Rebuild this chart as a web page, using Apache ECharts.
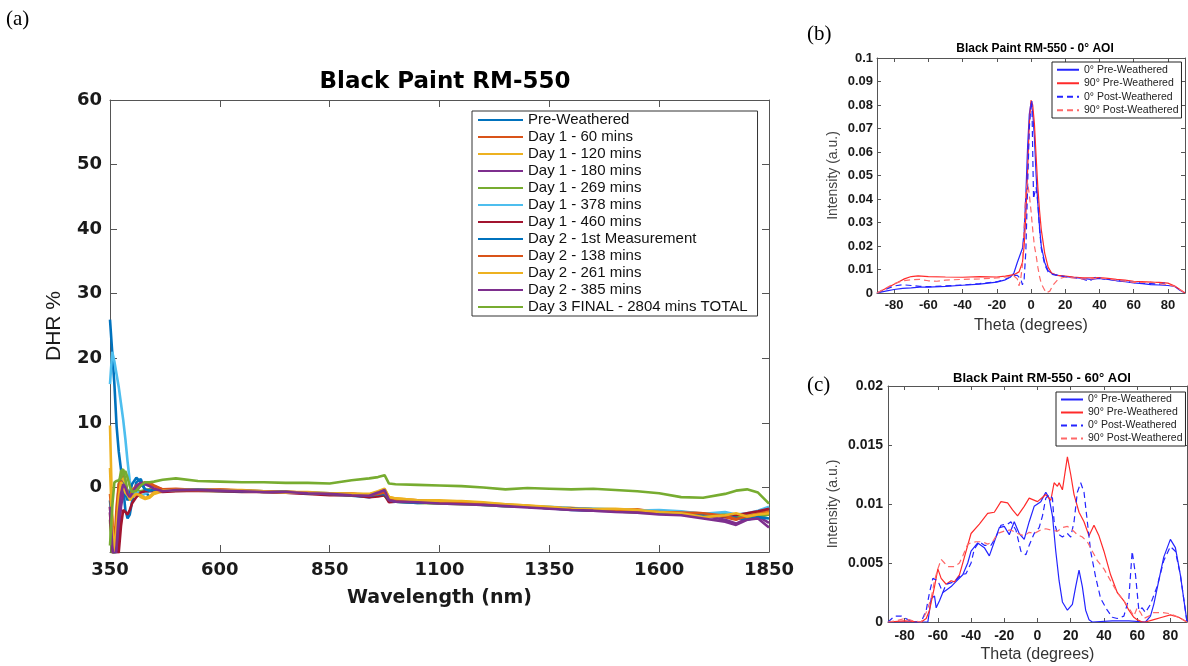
<!DOCTYPE html>
<html>
<head>
<meta charset="utf-8">
<script src="https://cdn.jsdelivr.net/npm/echarts@6/dist/echarts.min.js"></script>
<style>html,body{margin:0;padding:0;background:#fff;}#c{width:1188px;height:666px;}</style>
</head>
<body>
<div id="c"></div>
<script>
// ---------- Panel (a) data ----------
const wavelength = [350,355,360,365,370,375,380,385,390,395,400,410,420,430,440,450,470,500,550,600,650,700,750,800,850,900,940,960,975,985,1000,1050,1100,1150,1200,1250,1300,1350,1400,1450,1500,1550,1600,1650,1700,1750,1775,1800,1825,1850];
const xTicksA = [350,600,850,1100,1350,1600,1850];
const yTicksA = [0,10,20,30,40,50,60];
const namesA = ['Pre-Weathered','Day 1 - 60 mins','Day 1 - 120 mins','Day 1 - 180 mins','Day 1 - 269 mins','Day 1 - 378 mins','Day 1 - 460 mins','Day 2 - 1st Measurement','Day 2 - 138 mins','Day 2 - 261 mins','Day 2 - 385 mins','Day 3 FINAL - 2804 mins TOTAL'];
const preWeathered = [26,21,16,9.5,5.5,2.8,0,-3.5,-4.8,-4.2,-2.3,0.8,1.3,-0.6,-1.5,-0.9,-0.4,-0.3,-0.4,-0.5,-0.6,-0.6,-0.8,-0.8,-1.1,-1.3,-1.5,-1.2,-1.0,-2.0,-2.2,-2.3,-2.5,-2.4,-2.7,-2.9,-3.0,-3.2,-3.5,-3.6,-3.5,-3.8,-3.7,-4.1,-4.3,-4.0,-4.5,-4.7,-4.4,-4.2];
const day1m60 = [-3,-8,-12,-6,-1,1.5,2.2,1,-1,-2,-1.2,0,0.3,0.6,0.7,0.3,-0.3,-0.2,-0.4,-0.3,-0.5,-0.7,-0.6,-0.9,-0.9,-1.0,-1.1,-0.8,-0.6,-1.6,-1.8,-2.0,-2.2,-2.5,-2.6,-2.7,-3.0,-3.1,-3.2,-3.4,-3.5,-3.4,-3.9,-3.8,-4.0,-4.6,-5.0,-4.3,-3.8,-3.5];
const day1m120 = [9.6,-4,-11,-9,-4,0,1.5,0.5,-1,-2,-1.5,-0.8,-1.5,-1.8,-1.6,-1.0,-0.6,-0.5,-0.3,-0.4,-0.4,-0.6,-0.7,-0.7,-0.9,-1.0,-1.0,-0.6,-0.2,-1.5,-1.7,-2.0,-2.0,-2.2,-2.4,-2.6,-2.8,-3.1,-3.2,-3.3,-3.4,-3.5,-3.8,-3.9,-4.5,-4.2,-4.8,-4.0,-4.3,-3.8];
const day1m180 = [-3.8,-7,-12,-12,-7,-3,-1,0.2,-0.5,-1.5,-1.2,-0.5,0.3,0.6,0.3,-0.2,-0.6,-0.5,-0.4,-0.4,-0.5,-0.7,-0.8,-0.9,-1.0,-1.1,-1.3,-1.0,-0.5,-2.0,-2.1,-2.3,-2.4,-2.5,-2.6,-2.8,-3.0,-3.2,-3.4,-3.6,-3.7,-3.6,-4.0,-4.1,-4.4,-5.0,-5.6,-4.8,-4.5,-5.5];
const day1m269 = [-5,-11,-11,-5,0.5,2.5,2.8,1.2,-0.8,-1.5,-1.2,-0.5,-0.6,-0.4,-0.3,-0.3,-0.5,-0.4,-0.5,-0.6,-0.6,-0.7,-0.7,-0.9,-1.0,-1.2,-1.4,-1.2,-1.3,-2.1,-2.2,-2.4,-2.5,-2.6,-2.7,-2.9,-3.0,-3.2,-3.4,-3.5,-3.7,-3.9,-4.0,-4.1,-4.6,-4.1,-4.4,-4.9,-4.6,-4.2];
const day1m378 = [16,21,19.5,17.5,15.5,13,10.5,7.5,4,1,-1,-0.5,-1.3,-1,-0.5,-0.3,-0.4,-0.4,-0.3,-0.6,-0.5,-0.6,-0.7,-0.8,-0.9,-1.1,-1.2,-1.1,-1.2,-1.8,-2.0,-2.1,-2.3,-2.4,-2.5,-2.7,-2.9,-3.0,-3.2,-3.3,-3.4,-3.6,-3.5,-3.7,-4.1,-3.8,-4.2,-4.0,-3.6,-3.0];
const day1m460 = [-4,-9,-12,-12,-10,-6,-3.5,-3.8,-4.2,-3.5,-2.5,-1.5,-0.8,-0.6,-0.6,-0.6,-0.7,-0.6,-0.5,-0.6,-0.7,-0.7,-0.8,-1.0,-1.2,-1.2,-1.5,-1.4,-1.2,-2.3,-2.2,-2.1,-2.2,-2.4,-2.6,-2.8,-3.0,-3.1,-3.3,-3.5,-3.6,-3.8,-3.9,-4.0,-4.2,-4.5,-4.3,-4.0,-3.7,-3.3];
const day2first = [-2,-6,-11,-8,-2,1,0.5,-1,-2,-1,0.5,1.5,0.8,-0.3,-0.5,-0.4,-0.5,-0.4,-0.3,-0.5,-0.6,-0.6,-0.7,-0.9,-1.0,-1.1,-1.3,-1.1,-1.0,-1.9,-2.2,-2.4,-2.3,-2.3,-2.5,-2.8,-3.0,-3.2,-3.3,-3.4,-3.6,-3.7,-3.9,-4.0,-4.3,-4.4,-4.7,-5.0,-4.6,-4.8];
const day2m138 = [-1,-5,-9,-3,0.5,1,0,-0.5,-1,-1.5,-0.5,0.3,0.6,0.8,0.5,0.2,-0.3,-0.3,-0.4,-0.4,-0.5,-0.6,-0.7,-0.8,-1.0,-1.0,-1.2,-1.0,-0.8,-1.7,-1.9,-2.1,-2.2,-2.4,-2.6,-2.7,-2.9,-3.1,-3.3,-3.4,-3.6,-3.7,-3.8,-3.9,-4.0,-4.4,-4.9,-4.5,-4.1,-3.9];
const day2m261 = [3,-6,-10,-6,-1.5,0.8,0.3,-0.8,-1.2,-1.8,-1.5,-1,-1.2,-1.6,-1.4,-0.8,-0.5,-0.4,-0.4,-0.4,-0.5,-0.6,-0.8,-0.8,-0.9,-1.0,-1.1,-0.7,-0.3,-1.5,-1.7,-2.0,-2.1,-2.1,-2.3,-2.6,-2.8,-3.0,-3.3,-3.4,-3.3,-3.5,-3.8,-4.0,-4.6,-4.3,-4.0,-4.5,-4.2,-4.0];
const day2m385 = [-3,-9,-12,-9,-4,-1,0.5,0,-1,-1.5,-1,0.2,0.7,0.5,0.2,-0.2,-0.6,-0.4,-0.4,-0.5,-0.6,-0.7,-0.7,-0.9,-1.0,-1.2,-1.3,-0.8,-0.4,-2.0,-2.2,-2.3,-2.5,-2.6,-2.7,-2.9,-3.1,-3.3,-3.5,-3.6,-3.8,-3.9,-4.2,-4.3,-4.8,-5.3,-5.8,-5.0,-4.8,-6.2];
const day3final = [-9,-3,0.8,1,1.1,1.5,2.3,2.5,1.5,0.2,-0.7,-0.5,0.3,0.8,0.8,0.9,1.2,1.4,1.0,0.9,0.8,0.8,0.7,0.7,0.6,1.1,1.4,1.6,1.9,0.6,0.5,0.4,0.3,0.2,0.0,-0.3,-0.1,-0.2,-0.3,-0.2,-0.4,-0.6,-0.9,-1.5,-1.6,-1.0,-0.5,-0.3,-0.8,-2.5];
const valuesA = [preWeathered,day1m60,day1m120,day1m180,day1m269,day1m378,day1m460,day2first,day2m138,day2m261,day2m385,day3final];

// ---------- Panels (b) and (c) data ----------
const namesBC = ['0° Pre-Weathered','90° Pre-Weathered','0° Post-Weathered','90° Post-Weathered'];
const thetaTicks = [-80,-60,-40,-20,0,20,40,60,80];
const yTicksB = [0,0.01,0.02,0.03,0.04,0.05,0.06,0.07,0.08,0.09,0.1];
const yTicksC = [0,0.005,0.01,0.015,0.02];
const b0Pre = [[-90,0],[-85,0.0008],[-80,0.0015],[-75,0.002],[-70,0.0022],[-65,0.0025],[-60,0.0025],[-50,0.0028],[-40,0.0033],[-30,0.0038],[-20,0.0046],[-15,0.0056],[-12,0.0068],[-10,0.0085],[-8,0.013],[-6,0.017],[-5,0.019],[-4,0.026],[-3,0.042],[-2,0.062],[-1,0.076],[0,0.081],[1,0.077],[2,0.066],[3,0.05],[4,0.038],[5,0.028],[6,0.02],[8,0.013],[10,0.0095],[13,0.008],[16,0.0075],[20,0.007],[25,0.0066],[30,0.0062],[35,0.0058],[40,0.0062],[45,0.0058],[50,0.0052],[55,0.0048],[60,0.0043],[65,0.004],[70,0.0036],[75,0.0034],[80,0.0032],[84,0.0028],[87,0.0012],[90,0]];
const b90Pre = [[-90,0],[-86,0.0015],[-82,0.003],[-78,0.0045],[-74,0.006],[-70,0.007],[-66,0.0073],[-60,0.007],[-50,0.0068],[-40,0.0067],[-30,0.007],[-20,0.0068],[-15,0.0072],[-10,0.0078],[-7,0.009],[-5,0.013],[-4,0.02],[-3,0.033],[-2,0.052],[-1,0.072],[0,0.082],[1,0.08],[2,0.072],[3,0.058],[4,0.045],[5,0.035],[6,0.027],[8,0.017],[10,0.011],[12,0.0085],[15,0.0075],[20,0.0072],[25,0.0068],[30,0.0065],[35,0.0065],[40,0.0066],[45,0.0062],[50,0.0058],[55,0.0055],[60,0.005],[65,0.0048],[70,0.0046],[75,0.0045],[80,0.0042],[84,0.003],[87,0.0015],[90,0]];
const b0Post = [[-90,0],[-85,0.0015],[-80,0.003],[-75,0.0035],[-70,0.0032],[-65,0.0028],[-60,0.0027],[-50,0.003],[-40,0.0034],[-30,0.004],[-20,0.0048],[-15,0.0058],[-10,0.0075],[-8,0.0075],[-6,0.006],[-5,0.0035],[-4,0.006],[-3,0.018],[-2,0.045],[-1,0.07],[0,0.08],[0.5,0.082],[1,0.06],[1.5,0.04],[2,0.042],[3,0.045],[4,0.038],[5,0.027],[6,0.019],[8,0.012],[10,0.009],[13,0.0078],[16,0.0074],[20,0.007],[25,0.0065],[30,0.006],[34,0.005],[38,0.0068],[42,0.006],[48,0.0056],[55,0.005],[60,0.0045],[65,0.0042],[70,0.004],[75,0.0038],[80,0.0045]];
const b90Post = [[-90,0],[-85,0.002],[-80,0.004],[-75,0.0052],[-70,0.0056],[-65,0.0058],[-60,0.0052],[-55,0.005],[-50,0.0055],[-40,0.0058],[-30,0.006],[-20,0.0064],[-15,0.0068],[-10,0.0072],[-8,0.006],[-7,0.003],[-6,0.006],[-5,0.012],[-4,0.028],[-3,0.044],[-2,0.047],[-1,0.042],[0,0.035],[1,0.027],[2,0.02],[3,0.016],[4,0.011],[5,0.007],[6,0.004],[8,0.0012],[9,0],[11,0.0008],[13,0.0035],[16,0.006],[20,0.0068],[25,0.0064],[30,0.006],[35,0.006],[40,0.0064],[45,0.006],[50,0.0055],[55,0.005],[60,0.0045],[65,0.0045],[70,0.0048],[75,0.004],[80,0.0035],[84,0.0028],[87,0.0015],[90,0]];

const c0Pre = [[-90,0],[-66,0],[-64,0.002],[-62,0.0022],[-61,0.0012],[-59,0.0018],[-57,0.0025],[-55,0.0027],[-52,0.003],[-50,0.0033],[-45,0.004],[-42,0.005],[-40,0.006],[-36,0.0067],[-32,0.0063],[-29,0.0056],[-26,0.0068],[-23,0.008],[-20,0.0081],[-17,0.0074],[-14,0.0085],[-11,0.0075],[-8,0.007],[-5,0.0085],[-2,0.0098],[2,0.0102],[5,0.011],[7,0.0105],[9,0.009],[11,0.006],[13,0.0035],[15,0.0017],[18,0.001],[21,0.0015],[23,0.003],[25,0.0044],[27,0.003],[29,0.001],[31,0.0002],[33,0],[45,0.0001],[55,0.0001],[65,0],[68,0.0005],[70,0.0015],[73,0.0035],[76,0.0055],[80,0.007],[83,0.0063],[86,0.004],[89,0.001],[90,0]];
const c90Pre = [[-90,0],[-80,0.0001],[-70,0],[-67,0.0003],[-65,0.001],[-62,0.003],[-60,0.0045],[-58,0.0037],[-55,0.0032],[-52,0.0035],[-50,0.0034],[-47,0.004],[-44,0.0055],[-40,0.0075],[-35,0.0083],[-30,0.0092],[-26,0.0093],[-22,0.0102],[-18,0.0101],[-15,0.0095],[-12,0.009],[-8,0.0098],[-5,0.0105],[0,0.0102],[5,0.0108],[8,0.0103],[10,0.0118],[12,0.0115],[13,0.0118],[15,0.0112],[18,0.014],[20,0.0125],[22,0.0108],[25,0.0093],[28,0.0085],[31,0.0073],[34,0.0082],[37,0.0073],[40,0.006],[44,0.004],[48,0.0025],[52,0.0018],[55,0.001],[58,0.0004],[60,0.0002],[63,0],[65,0],[70,0.0002],[75,0.0004],[80,0.0006],[85,0.0004],[90,0]];
const c0Post = [[-90,0],[-86,0.0005],[-82,0.0005],[-78,0.0002],[-74,0],[-70,0],[-67,0.001],[-65,0.0025],[-63,0.0037],[-60,0.0035],[-57,0.0025],[-55,0.0032],[-50,0.0034],[-46,0.004],[-43,0.0041],[-40,0.005],[-38,0.0062],[-35,0.0068],[-32,0.0065],[-28,0.0065],[-25,0.0072],[-22,0.0082],[-18,0.0083],[-16,0.0085],[-13,0.0078],[-10,0.006],[-7,0.0057],[-5,0.0065],[-2,0.0075],[1,0.008],[3,0.009],[5,0.0105],[7,0.0108],[9,0.0105],[10,0.0085],[12,0.0075],[15,0.0072],[18,0.0075],[20,0.0072],[22,0.0085],[24,0.011],[26,0.0118],[28,0.011],[30,0.0085],[32,0.006],[35,0.0038],[38,0.002],[42,0.001],[45,0.0004],[48,0.0003],[52,0.0005],[55,0.002],[57,0.006],[59,0.004],[61,0.001],[63,0.0012],[65,0.0008],[68,0.0015],[72,0.003],[76,0.0052],[80,0.0064],[83,0.006],[86,0.004],[89,0.001],[90,0]];
const c90Post = [[-90,0],[-85,0.0001],[-80,0.0003],[-75,0.0001],[-70,0],[-67,0.0008],[-64,0.002],[-62,0.0035],[-60,0.0045],[-58,0.0053],[-56,0.005],[-54,0.0047],[-50,0.0047],[-47,0.005],[-45,0.0056],[-42,0.0066],[-40,0.0067],[-37,0.0068],[-33,0.0068],[-30,0.0066],[-27,0.0068],[-24,0.0075],[-20,0.0077],[-16,0.0078],[-12,0.0075],[-8,0.0073],[-5,0.0076],[-2,0.0075],[2,0.0078],[5,0.0079],[8,0.0078],[12,0.0077],[15,0.008],[18,0.0081],[21,0.0078],[24,0.0074],[27,0.0072],[30,0.0068],[33,0.006],[36,0.0052],[40,0.0045],[44,0.0035],[48,0.0025],[52,0.0018],[55,0.0012],[58,0.0005],[60,0.0012],[62,0.0008],[64,0.0003],[67,0.0005],[70,0.0008],[75,0.0008],[80,0.0007],[85,0.0004],[90,0]];
const valuesB = [b0Pre,b90Pre,b0Post,b90Post];
const valuesC = [c0Pre,c90Pre,c0Post,c90Post];

// ---------- styles ----------
const colorsA = ['#0072BD','#D95319','#EDB120','#7E2F8E','#77AC30','#4DBEEE','#A2142F','#0072BD','#D95319','#EDB120','#7E2F8E','#77AC30'];
const colorsBC = ['#2424ff','#ff2a2a','#2424ff','#ff6868'];
const typesBC = ['solid','solid',[6,4],[6,4]];
const axisCol = '#555';

function boxAxes(gridIndex, min, max, ticks, tickLen, labelFont, labelMargin, isX, name, nameFont, nameGap, nameWeight, nameColor) {
  const main = {
    type: 'value', gridIndex, min, max,
    axisLine: { show: true, onZero: false, lineStyle: { color: axisCol, width: 1 } },
    axisTick: { show: true, inside: true, length: tickLen, customValues: ticks, lineStyle: { color: axisCol } },
    axisLabel: { show: true, customValues: ticks, margin: labelMargin, color: '#1a1a1a', formatter: v => String(v), ...labelFont },
    splitLine: { show: false },
    name, nameLocation: 'middle', nameGap,
    nameTextStyle: { fontSize: nameFont.size, fontFamily: nameFont.family, fontWeight: nameWeight, color: nameColor }
  };
  const other = {
    type: 'value', gridIndex, min, max, position: isX ? 'top' : 'right',
    axisLine: { show: true, onZero: false, lineStyle: { color: axisCol, width: 1 } },
    axisTick: { show: true, inside: true, length: tickLen, customValues: ticks, lineStyle: { color: axisCol } },
    axisLabel: { show: false },
    splitLine: { show: false }
  };
  return [main, other];
}

const fontA = { fontFamily: 'DejaVu Sans', fontWeight: 'bold', fontSize: 18 };
const fontB = { fontFamily: 'Liberation Sans', fontWeight: 'bold', fontSize: 13 };
const fontC = { fontFamily: 'Liberation Sans', fontWeight: 'bold', fontSize: 14 };

const xa = boxAxes(0, 350, 1850, xTicksA, 7, fontA, 9, true, 'Wavelength (nm)', {size:19, family:'DejaVu Sans'}, 37, 'bold', '#1a1a1a');
const ya = boxAxes(0, -10, 60, yTicksA, 7, fontA, 8, false, 'DHR %', {size:21, family:'Liberation Sans'}, 45, 'normal', '#1a1a1a');
const xb = boxAxes(1, -90, 90, thetaTicks, 4, fontB, 6, true, 'Theta (degrees)', {size:16, family:'Liberation Sans'}, 25, 'normal', '#333');
const yb = boxAxes(1, 0, 0.1, yTicksB, 4, fontB, 4, false, 'Intensity (a.u.)', {size:14, family:'Liberation Sans'}, 37, 'normal', '#444');
const xc = boxAxes(2, -90, 90, thetaTicks, 4, fontC, 7, true, 'Theta (degrees)', {size:16, family:'Liberation Sans'}, 25, 'normal', '#333');
const yc = boxAxes(2, 0, 0.02, yTicksC, 4, fontC, 5, false, 'Intensity (a.u.)', {size:14, family:'Liberation Sans'}, 48, 'normal', '#444');

const xAxes = [xa[0], xa[1], xb[0], xb[1], xc[0], xc[1]];
const yAxes = [ya[0], ya[1], yb[0], yb[1], yc[0], yc[1]];

const series = [];
namesA.forEach((n, i) => {
  series.push({
    name: n, type: 'line', xAxisIndex: 0, yAxisIndex: 0, symbol: 'none', showSymbol: false,
    clip: true, color: colorsA[i], lineStyle: { width: 2.6, color: colorsA[i] },
    data: wavelength.map((w, j) => [w, valuesA[i][j]])
  });
});
namesBC.forEach((n, i) => {
  series.push({
    name: n, type: 'line', xAxisIndex: 2, yAxisIndex: 2, symbol: 'none', showSymbol: false,
    color: colorsBC[i], lineStyle: { width: 1.2, color: colorsBC[i], type: typesBC[i] },
    data: valuesB[i]
  });
});
namesBC.forEach((n, i) => {
  series.push({
    name: n, type: 'line', xAxisIndex: 4, yAxisIndex: 4, symbol: 'none', showSymbol: false,
    color: colorsBC[i], lineStyle: { width: 1.2, color: colorsBC[i], type: typesBC[i] },
    data: valuesC[i]
  });
});

const hiddenSymbol = { opacity: 0, borderWidth: 0 };

const chart = echarts.init(document.getElementById('c'), null, { renderer: 'canvas' });
chart.setOption({
  animation: false,
  backgroundColor: '#fff',
  title: [
    { text: 'Black Paint RM-550', left: 440, top: 66, textAlign: 'center',
      textStyle: { fontFamily: 'DejaVu Sans', fontWeight: 'bold', fontSize: 23, color: '#000' } },
    { text: 'Black Paint RM-550 - 0° AOI', left: 1030, top: 38, textAlign: 'center',
      textStyle: { fontFamily: 'Liberation Sans', fontWeight: 'bold', fontSize: 12, color: '#000' } },
    { text: 'Black Paint RM-550 - 60° AOI', left: 1037, top: 367, textAlign: 'center',
      textStyle: { fontFamily: 'Liberation Sans', fontWeight: 'bold', fontSize: 13, color: '#000' } }
  ],
  grid: [
    { left: 110, top: 100, width: 659, height: 452, show: false },
    { left: 877, top: 58, width: 308, height: 235, show: false },
    { left: 888, top: 386, width: 299, height: 236, show: false }
  ],
  xAxis: xAxes,
  yAxis: yAxes,
  legend: [
    { data: namesA, orient: 'vertical', left: 472, top: 111, itemWidth: 45, itemHeight: 10, itemGap: 1,
      padding: [1, 10, 1, 5], borderColor: '#333', borderWidth: 1, backgroundColor: '#fff',
      itemStyle: hiddenSymbol,
      textStyle: { fontFamily: 'Liberation Sans', fontSize: 15, lineHeight: 16, color: '#111' } },
    { data: namesBC, orient: 'vertical', left: 1052, top: 62, itemWidth: 22, itemHeight: 8, itemGap: 0,
      padding: [1, 3, 1, 4], borderColor: '#222', borderWidth: 1, backgroundColor: '#fff',
      itemStyle: hiddenSymbol,
      textStyle: { fontFamily: 'Liberation Sans', fontSize: 10.5, lineHeight: 13.5, color: '#222' } },
    { data: namesBC, orient: 'vertical', left: 1056, top: 392, itemWidth: 22, itemHeight: 8, itemGap: 0,
      padding: [1, 3, 1, 4], borderColor: '#222', borderWidth: 1, backgroundColor: '#fff',
      itemStyle: hiddenSymbol,
      textStyle: { fontFamily: 'Liberation Sans', fontSize: 10.5, lineHeight: 13, color: '#222' } }
  ],
  graphic: [
    { type: 'text', left: 6, top: 9, style: { text: '(a)', fontFamily: 'Liberation Serif', fontSize: 21, fill: '#000' } },
    { type: 'text', left: 807, top: 24, style: { text: '(b)', fontFamily: 'Liberation Serif', fontSize: 21, fill: '#000' } },
    { type: 'text', left: 807, top: 375, style: { text: '(c)', fontFamily: 'Liberation Serif', fontSize: 21, fill: '#000' } }
  ],
  series
});
</script>
</body>
</html>
